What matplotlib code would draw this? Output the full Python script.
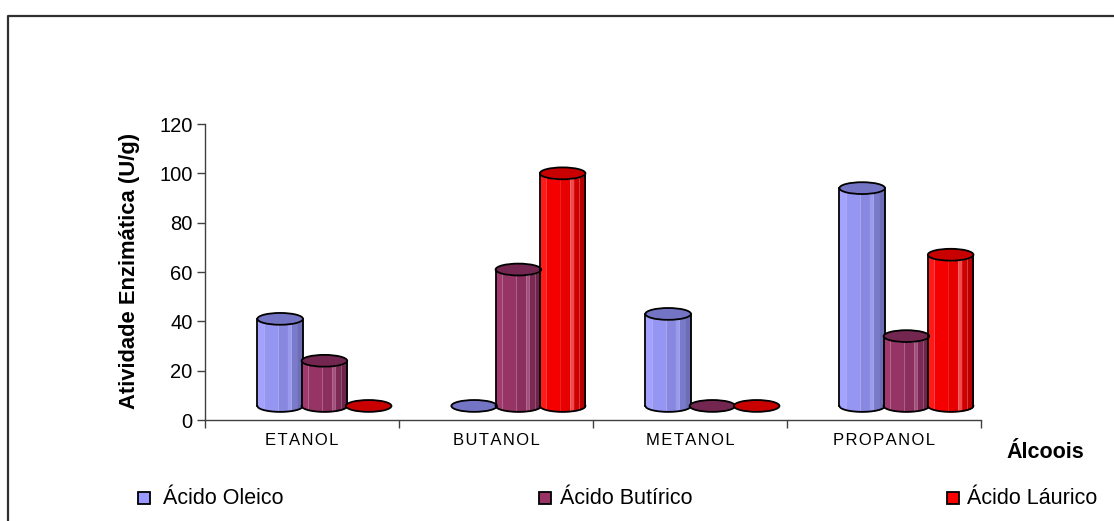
import numpy as np
import matplotlib
matplotlib.use("Agg")
import matplotlib.pyplot as plt
from matplotlib.patches import Ellipse, Rectangle
from matplotlib.lines import Line2D

plt.rcParams['font.family'] = ['Liberation Sans', 'DejaVu Sans']

# Data
categorias = ["ETANOL", "BUTANOL", "METANOL", "PROPANOL"]
series = ["Ácido Oleico", "Ácido Butírico", "Ácido Láurico"]
oleico = [41, 0, 43, 94]
butirico = [24, 61, 0, 34]
laurico = [0, 100, 0, 67]
valores = [oleico, butirico, laurico]
yticks = [0, 20, 40, 60, 80, 100, 120]

# Face shades for each series: (left .. right facets), top colour
faces = [
    ["#a3a3ff", "#9595f2", "#8888e0", "#9a9aee", "#7a7acc", "#6d6db8"],
    ["#a03a6e", "#963466", "#8a2f5e", "#a4507c", "#7c2a55", "#6e244b"],
    ["#ff1a1a", "#f50000", "#e60000", "#f04a4a", "#d00000", "#bb0000"],
]
tops = ["#7474c4", "#722650", "#c80000"]
legend_cols = ["#9999ff", "#993366", "#ff0000"]

W, H, DPI = 1114, 521, 100
fig = plt.figure(figsize=(W / DPI, H / DPI), dpi=DPI)
ax = fig.add_axes([205 / W, 1 - 420 / H, (981 - 205) / W, (420 - 124) / H])
ax.set_xlim(0, 4)
ax.set_ylim(0, 120)

base = 5.7        # floor level of the prisms (3D depth lift)
ry = 2.4          # half-height of the elliptic caps
bw = 0.235        # prism width
x_off = 0.27      # first prism offset inside a category
step = 0.228      # spacing between prisms
edges = [0, 0.14, 0.45, 0.66, 0.74, 0.86, 1.0]

for j, vals in enumerate(valores):
    for i, v in enumerate(vals):
        x0 = i + x_off + j * step
        x1 = x0 + bw
        xc = (x0 + x1) / 2
        rx = bw / 2
        yt = max(v, base)
        if yt > base + 0.5:
            for k in range(len(edges) - 1):
                xa = x0 + edges[k] * bw
                xb = x0 + edges[k + 1] * bw
                xs = np.linspace(xa, xb, 30)
                u = np.clip((xs - xc) / rx, -1, 1)
                curve = ry * np.sqrt(1 - u ** 2)
                ax.fill_between(xs, base - curve, yt - curve,
                                color=faces[j][k], lw=0, zorder=3 + j,
                                clip_on=False)
            xs = np.linspace(x0, x1, 80)
            u = np.clip((xs - xc) / rx, -1, 1)
            curve = ry * np.sqrt(1 - u ** 2)
            ax.plot(xs, base - curve, color="black", lw=1.3, zorder=4 + j,
                    clip_on=False)
            ax.plot([x0, x0], [base, yt], color="black", lw=1.3,
                    zorder=4 + j, clip_on=False)
            ax.plot([x1, x1], [base, yt], color="black", lw=1.3,
                    zorder=4 + j, clip_on=False)
        cap = Ellipse((xc, yt), bw, 2 * ry, facecolor=tops[j],
                      edgecolor="black", lw=1.3, zorder=4.5 + j,
                      clip_on=False)
        ax.add_patch(cap)

# Axes styling
for s in ["top", "right"]:
    ax.spines[s].set_visible(False)
for s in ["left", "bottom"]:
    ax.spines[s].set_color("#404040")
    ax.spines[s].set_linewidth(1.0)

ax.set_yticks(yticks)
ax.set_yticklabels([str(t) for t in yticks], fontsize=14.5)
ax.tick_params(axis="y", direction="out", length=6, width=1,
               color="#404040", pad=3)

# Category names are drawn slightly letter-spaced
spaced = ["\u200a".join(c) for c in categorias]
ax.set_xticks([0, 1, 2, 3, 4])
ax.set_xticklabels([])
ax.set_xticks([i + 0.5 for i in range(4)], minor=True)
ax.set_xticklabels(spaced, minor=True, fontsize=12)
ax.tick_params(axis="x", which="major", direction="out", length=6,
               width=1, color="#404040")
ax.tick_params(axis="x", which="minor", length=0, pad=9.5)

fig.text(130 / W, 1 - 271 / H, "Atividade Enzimática (U/g)", rotation=90,
         ha="center", va="center", fontsize=15.8, fontweight="bold")
fig.text(1045 / W, 1 - 452 / H, "Álcoois", ha="center", va="center",
         fontsize=15.5, fontweight="bold")

# Legend row
leg_x = [(138, 163), (539, 560), (947, 967)]
for (mx, tx), name, col in zip(leg_x, series, legend_cols):
    fig.patches.append(Rectangle((mx / W, 1 - 504 / H), 12 / W, 12 / H,
                                 transform=fig.transFigure,
                                 facecolor=col, edgecolor="black", lw=1.3))
    fig.text(tx / W, 1 - 498 / H, name, ha="left", va="center",
             fontsize=15.5)

# Chart area frame
fig.add_artist(Line2D([8 / W, 8 / W, 1.0], [0.0, 1 - 16 / H, 1 - 16 / H],
                      transform=fig.transFigure, color="#303030", lw=1.6))

fig.savefig("out.png", dpi=DPI)
